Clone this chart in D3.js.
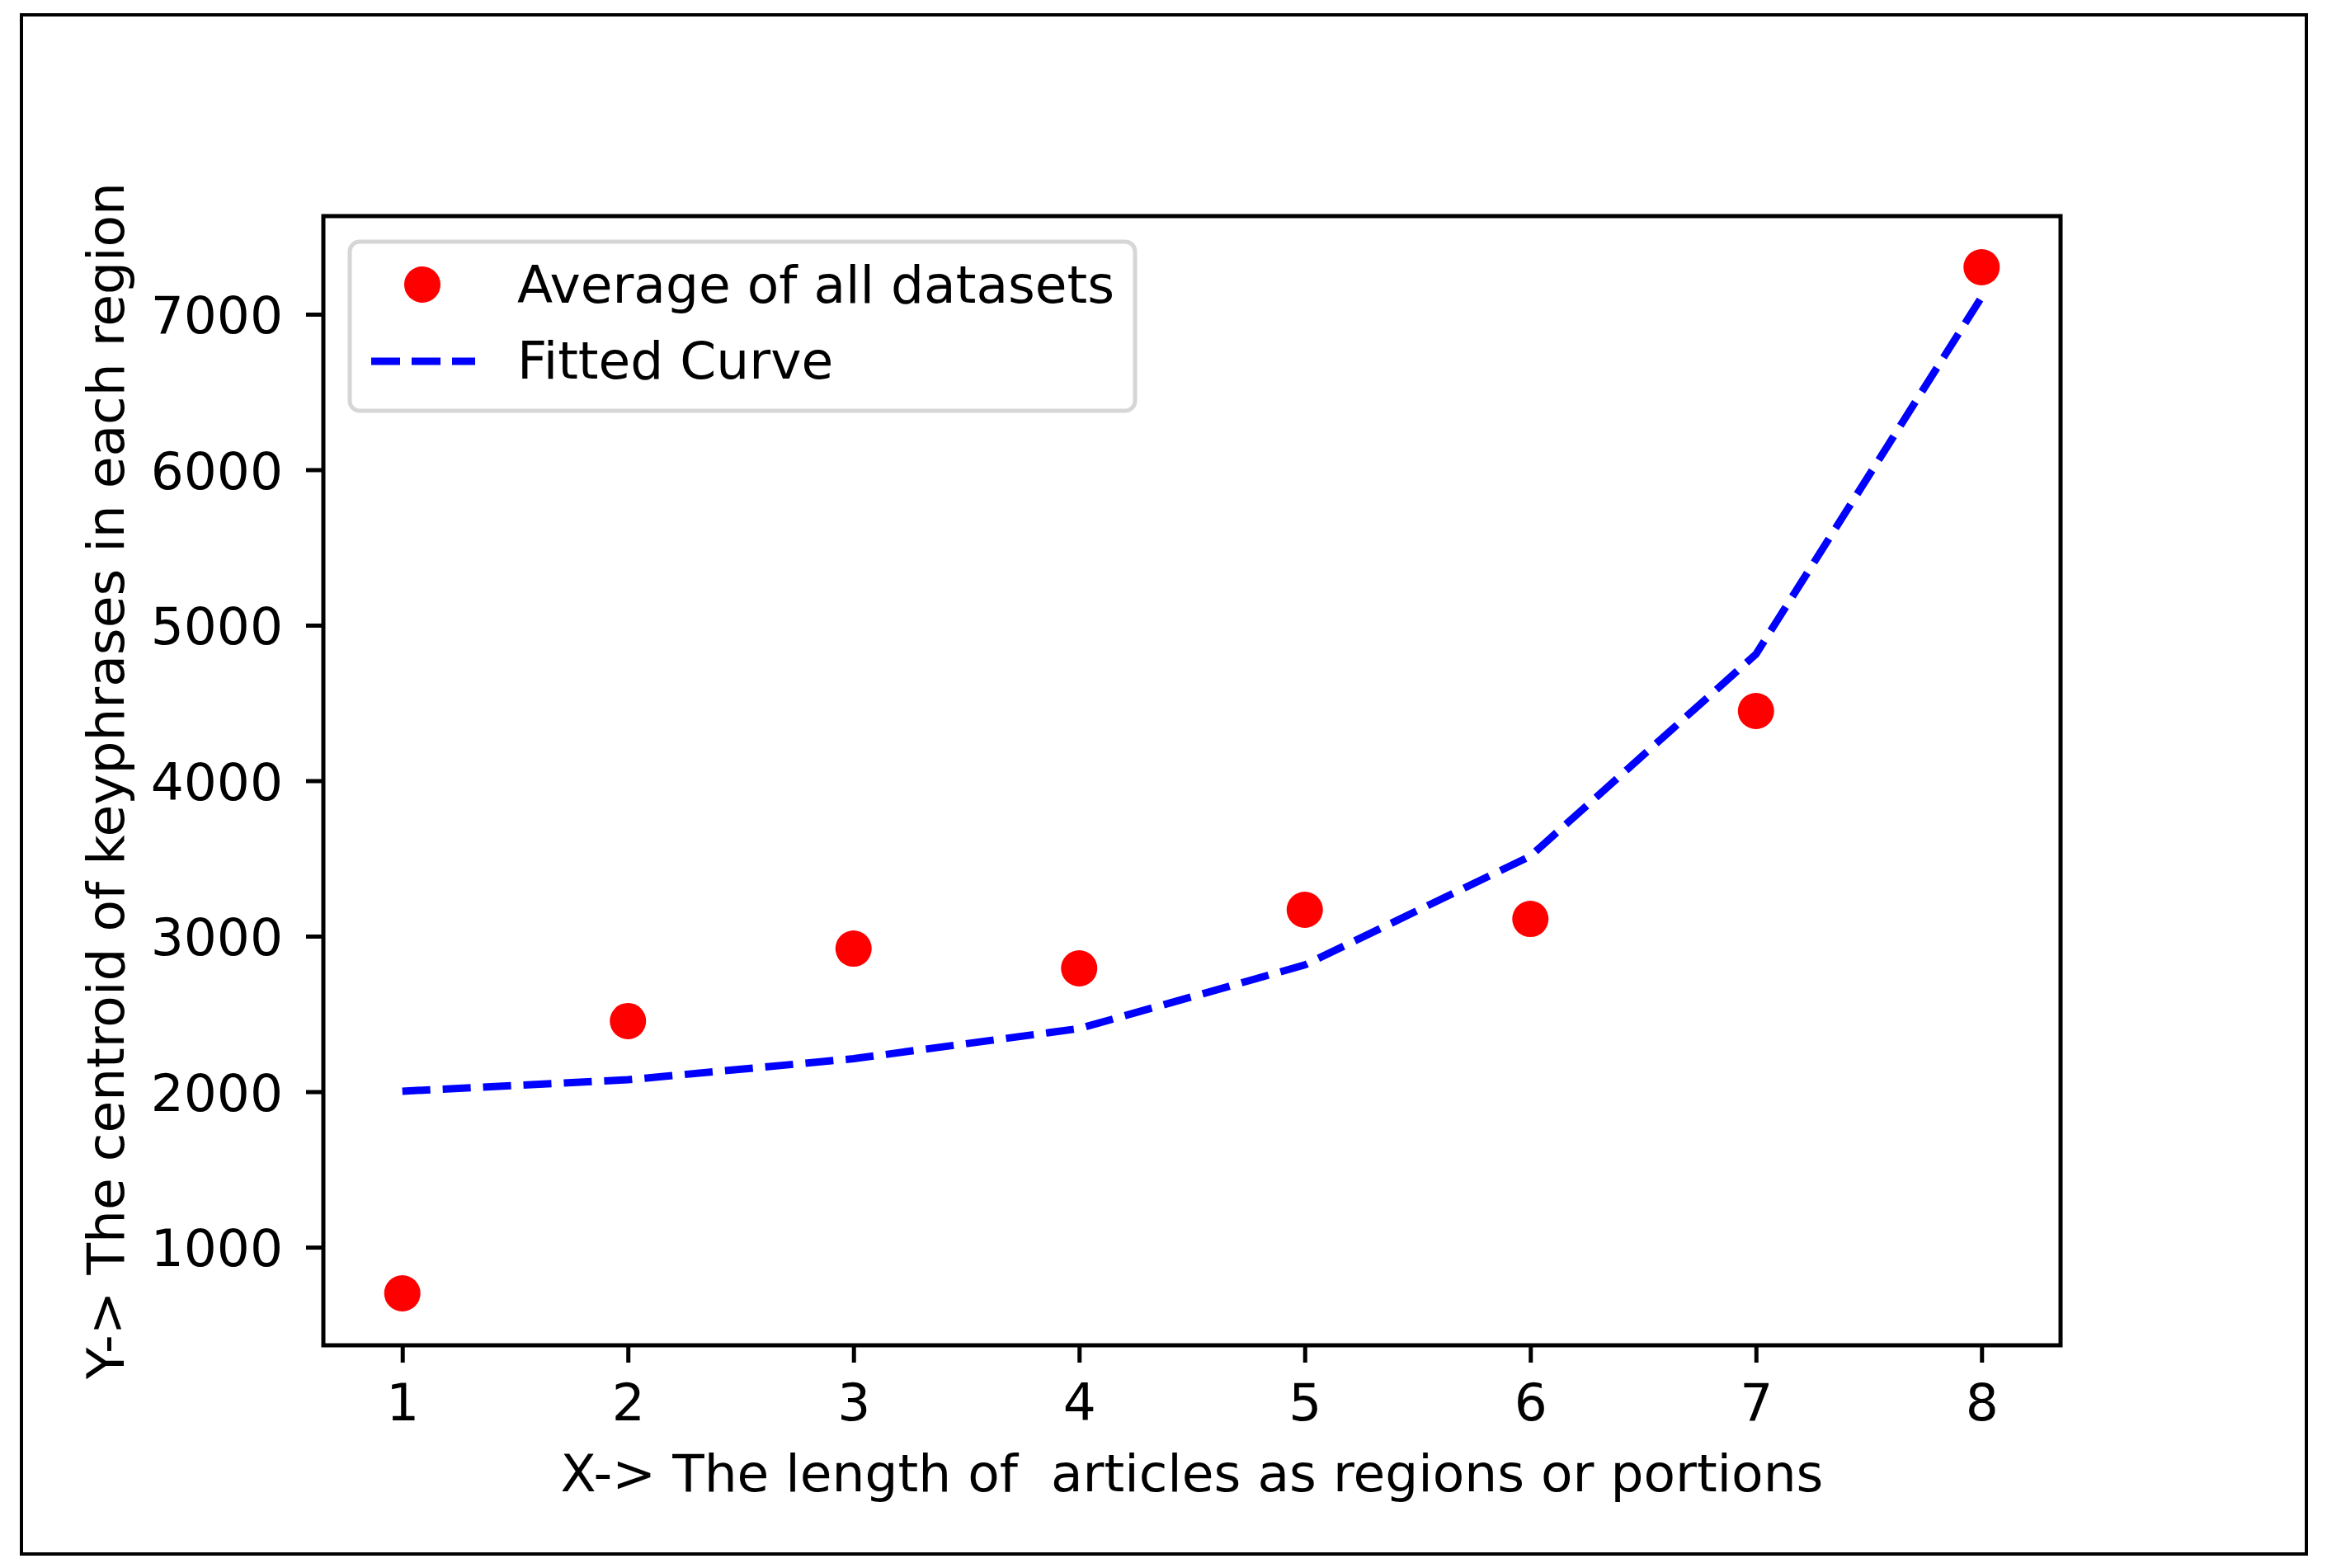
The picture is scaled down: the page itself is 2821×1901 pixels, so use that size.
<!DOCTYPE html>
<html>
<head>
<meta charset="utf-8">
<script src="https://cdn.jsdelivr.net/npm/d3@7/dist/d3.min.js"></script>
<style>
  html, body { margin: 0; padding: 0; background: #ffffff; }
  svg { display: block; font-family: "DejaVu Sans", sans-serif; }
</style>
</head>
<body>
<script>
// ---- data ----
const xValues = [1, 2, 3, 4, 5, 6, 7, 8];
const averageValues = [703, 2454, 2920, 2793, 3170, 3111, 4448, 7302];
const fittedValues = [2003, 2077, 2212, 2406, 2815, 3515, 4814, 7110];
const xTicks = [1, 2, 3, 4, 5, 6, 7, 8];
const yTicks = [1000, 2000, 3000, 4000, 5000, 6000, 7000];
const seriesNames = ["Average of all datasets", "Fitted Curve"];
const xLabel = "X-> The length of  articles as regions or portions";
const yLabel = "Y-> The centroid of keyphrases in each region";

// ---- layout ----
const W = 2821, H = 1901;
const plot = { left: 392, right: 2498, top: 262, bottom: 1631 };
const fontSize = 63;

const svg = d3.select("body").append("svg")
  .attr("width", W).attr("height", H)
  .attr("viewBox", `0 0 ${W} ${H}`);

svg.append("rect").attr("width", W).attr("height", H).attr("fill", "#ffffff");

// outer figure border
svg.append("rect")
  .attr("x", 26).attr("y", 18)
  .attr("width", 2796 - 26).attr("height", 1884 - 18)
  .attr("fill", "none").attr("stroke", "#000").attr("stroke-width", 4);

const x = d3.scaleLinear().domain([0.65, 8.35]).range([plot.left, plot.right]);
const y = d3.scaleLinear().domain([369, 7631]).range([plot.bottom, plot.top]);

// axes
const xAxis = d3.axisBottom(x).tickValues(xTicks).tickFormat(d3.format("d"))
  .tickSize(21).tickSizeOuter(0).tickPadding(25);
const yAxis = d3.axisLeft(y).tickValues(yTicks).tickFormat(d3.format("d"))
  .tickSize(21).tickSizeOuter(0).tickPadding(28);

const gx = svg.append("g").attr("transform", `translate(0,${plot.bottom})`).call(xAxis);
const gy = svg.append("g").attr("transform", `translate(${plot.left},0)`).call(yAxis);
[gx, gy].forEach(g => {
  g.select(".domain").remove();
  g.selectAll(".tick line").attr("stroke", "#000").attr("stroke-width", 5);
  g.selectAll(".tick text").attr("fill", "#000")
    .style("font-size", fontSize + "px")
    .style("font-family", "'DejaVu Sans', sans-serif");
});
gy.selectAll(".tick text").attr("dy", "0.36em");

// fitted curve
const line = d3.line().x((d, i) => x(xValues[i])).y(d => y(d));
svg.append("path")
  .datum(fittedValues)
  .attr("d", line)
  .attr("fill", "none")
  .attr("stroke", "#0000ff")
  .attr("stroke-width", 9)
  .attr("stroke-dasharray", "34,15");

// points
svg.append("g").selectAll("circle")
  .data(averageValues)
  .join("circle")
  .attr("cx", (d, i) => x(xValues[i]))
  .attr("cy", d => y(d))
  .attr("r", 22)
  .attr("fill", "#ff0000");

// spines
svg.append("rect")
  .attr("x", plot.left).attr("y", plot.top)
  .attr("width", plot.right - plot.left).attr("height", plot.bottom - plot.top)
  .attr("fill", "none").attr("stroke", "#000").attr("stroke-width", 5);

// axis labels
svg.append("text")
  .attr("x", (plot.left + plot.right) / 2).attr("y", 1808)
  .attr("text-anchor", "middle")
  .style("font-size", fontSize + "px")
  .style("white-space", "pre")
  .attr("xml:space", "preserve")
  .text(xLabel);

svg.append("text")
  .attr("transform", `translate(150,${(plot.top + plot.bottom) / 2}) rotate(-90)`)
  .attr("text-anchor", "middle")
  .style("font-size", fontSize + "px")
  .text(yLabel);

// legend
const lg = svg.append("g");
lg.append("rect")
  .attr("x", 424).attr("y", 293).attr("width", 952).attr("height", 205)
  .attr("rx", 12).attr("ry", 12)
  .attr("fill", "#ffffff").attr("fill-opacity", 0.8)
  .attr("stroke", "#d6d6d6").attr("stroke-width", 5);
lg.append("circle").attr("cx", 512).attr("cy", 345).attr("r", 22).attr("fill", "#ff0000");
lg.append("line")
  .attr("x1", 450).attr("x2", 576).attr("y1", 438).attr("y2", 438)
  .attr("stroke", "#0000ff").attr("stroke-width", 9)
  .attr("stroke-dasharray", "35,14");
lg.selectAll("text.leg")
  .data(seriesNames)
  .join("text")
  .attr("class", "leg")
  .attr("x", 627)
  .attr("y", (d, i) => [367, 459][i])
  .style("font-size", fontSize + "px")
  .text(d => d);
</script>
</body>
</html>
